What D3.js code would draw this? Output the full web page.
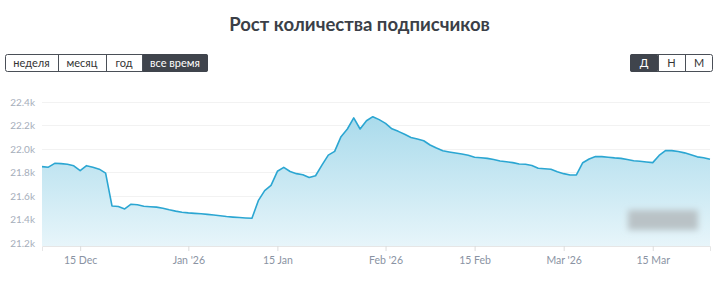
<!DOCTYPE html>
<html><head><meta charset="utf-8">
<script src="https://cdn.jsdelivr.net/npm/d3@7"></script>
<style>
html,body{margin:0;padding:0;background:#fff;}
svg{display:block;font-family:Lato,"Open Sans",sans-serif;}
</style></head>
<body><svg id="c" width="719" height="282"></svg>
<script>
const title = "Рост количества подписчиков";
const periodButtons = ["неделя","месяц","год","все время"];
const scaleButtons = ["Д","Н","М"];
const startDate = "2025-12-09";
const subscribers = [
21.85,21.845,21.878,21.875,21.87,21.857,21.815,21.858,21.845,21.828,
21.795,21.515,21.51,21.49,21.53,21.525,21.512,21.508,21.505,21.495,
21.482,21.471,21.462,21.456,21.452,21.448,21.443,21.438,21.432,21.425,
21.42,21.416,21.413,21.41,21.56,21.645,21.69,21.81,21.843,21.808,
21.79,21.78,21.757,21.772,21.862,21.948,21.98,22.105,22.17,22.265,
22.17,22.24,22.275,22.25,22.218,22.172,22.15,22.125,22.098,22.085,
22.07,22.034,22.008,21.985,21.975,21.966,21.957,21.946,21.93,21.925,
21.92,21.91,21.898,21.891,21.884,21.872,21.87,21.86,21.836,21.832,
21.828,21.806,21.79,21.779,21.779,21.883,21.915,21.935,21.935,21.93,
21.924,21.92,21.91,21.9,21.895,21.889,21.884,21.945,21.986,21.986,
21.978,21.967,21.95,21.933,21.925,21.912];
const yTicks = [21.2,21.4,21.6,21.8,22.0,22.2,22.4];
const xTickDates = ["2025-12-15","2026-01-01","2026-01-15","2026-02-01","2026-02-15","2026-03-01","2026-03-15"];
const xTickLabels = ["15 Dec","Jan '26","15 Jan","Feb '26","15 Feb","Mar '26","15 Mar"];

const parse = d3.utcParse("%Y-%m-%d");
const t0 = parse(startDate);
const data = subscribers.map((v,i)=>({date:d3.utcDay.offset(t0,i), value:v}));

const svg = d3.select("#c");
const L=42,R=710,T=102,B=246;
const x = d3.scaleUtc().domain(d3.extent(data,d=>d.date)).range([L,R]);
const y = d3.scaleLinear().domain([21.174,22.4]).range([B,T]);

// title
svg.append("text").attr("x",359.5).attr("y",31).attr("text-anchor","middle")
  .attr("font-size",18.5).attr("font-weight",700).attr("fill","#3b3f47").text(title);

// button groups
function buttons(x0, widths, labels, activeIdx){
  const g = svg.append("g");
  let cx = x0;
  const h=18, y0=54;
  const total = d3.sum(widths);
  g.append("rect").attr("x",x0+0.5).attr("y",y0+0.5).attr("width",total-1).attr("height",h-1)
    .attr("rx",2).attr("fill","#fff").attr("stroke","#4a4f57");
  labels.forEach((lab,i)=>{
    const w = widths[i];
    if(i===activeIdx){
      g.append("rect").attr("x",cx).attr("y",y0).attr("width",w).attr("height",h)
        .attr("rx",i===labels.length-1||i===0?2:0).attr("fill","#3f444c");
    }
    if(i>0){
      g.append("line").attr("x1",cx+0.5).attr("x2",cx+0.5).attr("y1",y0).attr("y2",y0+h).attr("stroke","#4a4f57");
    }
    g.append("text").attr("x",cx+w/2).attr("y",y0+13).attr("text-anchor","middle")
      .attr("font-size",11).attr("fill",i===activeIdx?"#fff":"#333").text(lab);
    cx += w;
  });
}
buttons(5,[53,48,36,66],periodButtons,3);
buttons(630,[28,27,28],scaleButtons,0);

// gradient
const defs = svg.append("defs");
const grad = defs.append("linearGradient").attr("id","ag").attr("gradientUnits","userSpaceOnUse")
  .attr("x1",0).attr("y1",T).attr("x2",0).attr("y2",B);
grad.append("stop").attr("offset",0).attr("stop-color","#a3d8ea");
grad.append("stop").attr("offset",1).attr("stop-color","#e7f5fa");
const blur = defs.append("filter").attr("id","bl").attr("x","-20%").attr("y","-50%").attr("width","140%").attr("height","200%");
blur.append("feGaussianBlur").attr("stdDeviation",3);

// grid
svg.append("g").selectAll("line").data(yTicks).join("line")
  .attr("x1",L).attr("x2",R).attr("y1",d=>Math.round(y(d))+0.5).attr("y2",d=>Math.round(y(d))+0.5)
  .attr("stroke","#f2f2f2");

// area + line
svg.append("path").datum(data).attr("fill","url(#ag)")
  .attr("d",d3.area().x(d=>x(d.date)).y0(B).y1(d=>y(d.value)));
svg.append("path").datum(data).attr("fill","none").attr("stroke","#2ba6d2").attr("stroke-width",1.6)
  .attr("stroke-linejoin","round")
  .attr("d",d3.line().x(d=>x(d.date)).y(d=>y(d.value)));

// watermark blur
svg.append("rect").attr("x",628).attr("y",210).attr("width",70).attr("height",20)
  .attr("fill","#b9c2c6").attr("filter","url(#bl)");

// axes
const xa = svg.append("g").attr("transform",`translate(0,${B})`)
  .call(d3.axisBottom(x).tickValues(xTickDates.map(parse)).tickSize(5)
    .tickFormat((d,i)=>xTickLabels[i]));
xa.select(".domain").attr("stroke","#e6e6e6");
xa.selectAll(".tick line").attr("stroke","#dcdcdc");
xa.selectAll("text").attr("fill","#8a93a3").attr("font-size",10.5).attr("dy","0.95em")
  .attr("font-family","Lato,'Open Sans',sans-serif");

const ya = svg.append("g").attr("transform",`translate(${L},0)`)
  .call(d3.axisLeft(y).tickValues(yTicks).tickSize(0).tickPadding(7)
    .tickFormat(d=>d.toFixed(1)+"k"));
ya.select(".domain").remove();
ya.selectAll("text").attr("fill","#a6aebb").attr("font-size",10)
  .attr("font-family","Lato,'Open Sans',sans-serif");
</script></body></html>
